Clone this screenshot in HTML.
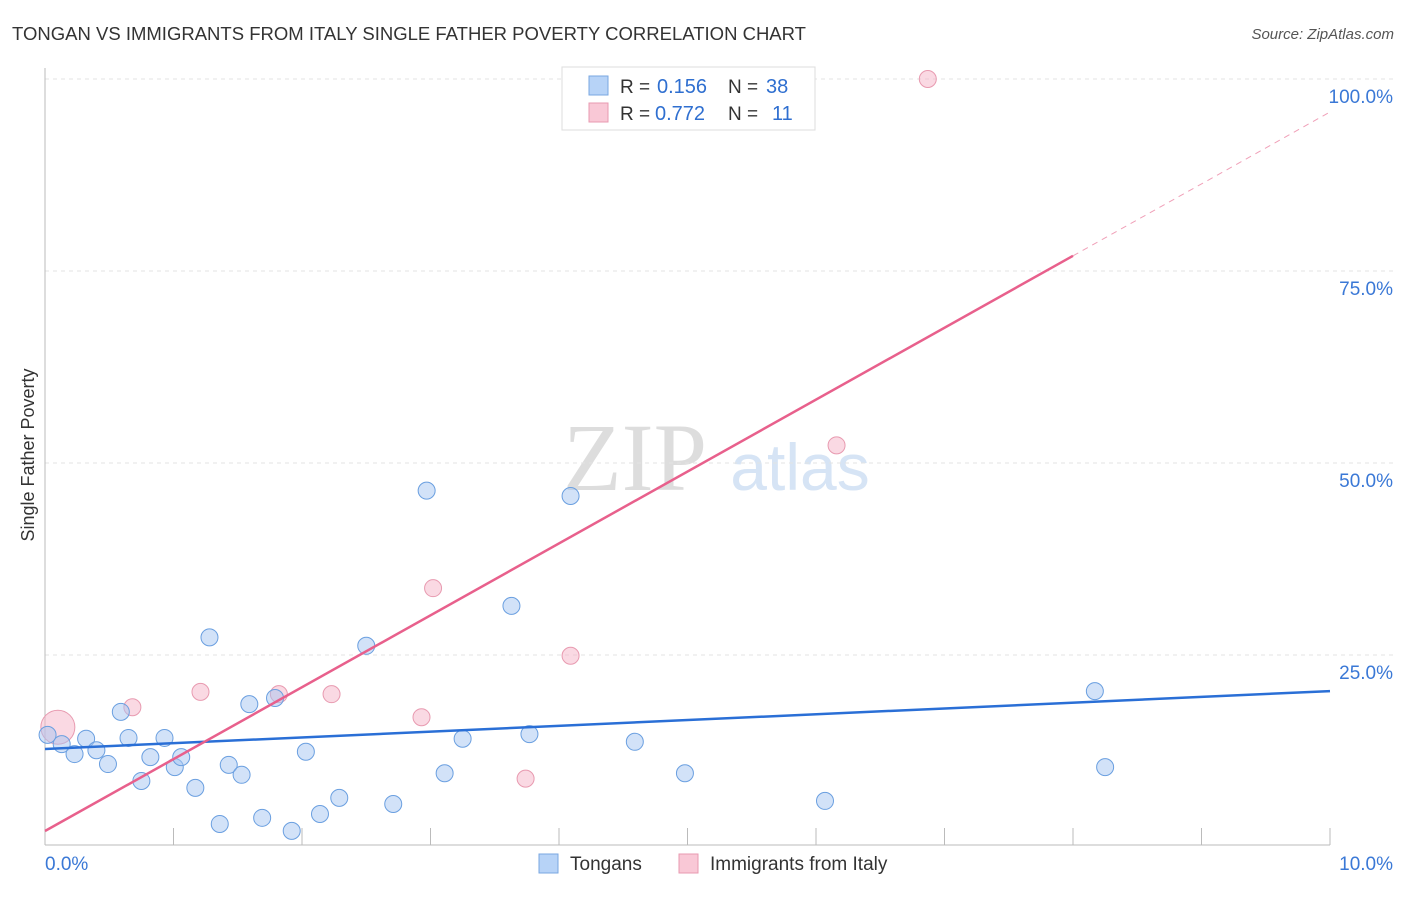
<!DOCTYPE html>
<html><head><meta charset="utf-8"><style>
body{margin:0;background:#fff;font-family:"Liberation Sans",sans-serif}
</style></head><body>
<svg width="1406" height="892" xmlns="http://www.w3.org/2000/svg" id="chart">
<text x="12" y="40" font-size="18" fill="#333" textLength="794" lengthAdjust="spacingAndGlyphs">TONGAN VS IMMIGRANTS FROM ITALY SINGLE FATHER POVERTY CORRELATION CHART</text>
<text x="1394" y="39" font-size="15" fill="#555" font-style="italic" text-anchor="end">Source: ZipAtlas.com</text>
<text x="635" y="490" font-size="96" fill="#ddd" font-family="Liberation Serif,serif" text-anchor="middle">ZIP</text>
<text x="800" y="490" font-size="66" fill="#d6e4f5" text-anchor="middle">atlas</text>
<text transform="translate(34,455) rotate(-90)" font-size="18" fill="#333" text-anchor="middle">Single Father Poverty</text>
<g id="grid"></g><g id="marks"></g>
<g>
<rect x="562" y="67" width="253" height="63" fill="#fff" stroke="#ddd"/>
<rect x="589" y="76" width="19" height="19" fill="#b7d3f7" stroke="#7aa7e0"/>
<rect x="589" y="103" width="19" height="19" fill="#f9c8d6" stroke="#e89ab0"/>
<text x="620" y="93" font-size="19" fill="#333">R =</text>
<text x="657" y="93" font-size="20" fill="#2f6fd0">0.156</text>
<text x="728" y="93" font-size="19" fill="#333">N =</text>
<text x="766" y="93" font-size="20" fill="#2f6fd0">38</text>
<text x="620" y="120" font-size="19" fill="#333">R =</text>
<text x="655" y="120" font-size="20" fill="#2f6fd0">0.772</text>
<text x="728" y="120" font-size="19" fill="#333">N =</text>
<text x="772" y="120" font-size="20" fill="#2f6fd0">11</text>
</g>
<g>
<rect x="539" y="854" width="19" height="19" fill="#b7d3f7" stroke="#7aa7e0"/>
<text x="570" y="870" font-size="19" fill="#333">Tongans</text>
<rect x="679" y="854" width="19" height="19" fill="#f9c8d6" stroke="#e89ab0"/>
<text x="710" y="870" font-size="19" fill="#333">Immigrants from Italy</text>
</g>
</svg>
<script>
const yTicks=[25,50,75,100];
const yTickLabels=["25.0%","50.0%","75.0%","100.0%"];
const xTickVals=[1,2,3,4,5,6,7,8,9,10];
const tonganX=[0.02,0.13,0.23,0.32,0.40,0.49,0.59,0.65,0.75,0.82,0.93,1.01,1.06,1.17,1.28,1.36,1.43,1.53,1.59,1.69,1.79,1.92,2.03,2.14,2.29,2.50,2.71,2.97,3.11,3.25,3.63,3.77,4.09,4.59,4.98,6.07,8.17,8.25];
const tonganY=[14.6,13.4,12.1,14.1,12.6,10.8,17.6,14.2,8.6,11.7,14.2,10.4,11.7,7.7,27.3,3.0,10.7,9.4,18.6,3.8,19.4,2.1,12.4,4.3,6.4,26.2,5.6,46.4,9.6,14.1,31.4,14.7,45.7,13.7,9.6,6.0,20.3,10.4];
const italyX=[0.10,0.68,1.21,1.82,2.23,2.93,3.02,3.74,4.09,6.16,6.87];
const italyY=[15.6,18.2,20.2,19.9,19.9,16.9,33.7,8.9,24.9,52.3,100];
const tonganTrend=[12.76,20.3];
const italyTrend=[2.08,95.7];
const italySolidEnd=8.0;
const X=v=>45+v*128.5, Y=v=>847-v*7.68;
const NS="http://www.w3.org/2000/svg";
function mk(p,t,a){const e=document.createElementNS(NS,t);for(const k in a)e.setAttribute(k,a[k]);p.appendChild(e);return e;}
const g=document.getElementById('grid'), m=document.getElementById('marks');
yTicks.forEach((v,i)=>{
 const l=mk(g,'line',{x1:45,x2:1395,y1:Y(v),y2:Y(v),stroke:'#e3e3e3','stroke-dasharray':'4,4'});
 
 
 const t=mk(g,'text',{x:1393,y:Y(v)+24,'font-size':19,fill:'#3a78d6','text-anchor':'end'});t.textContent=yTickLabels[i];
 
 
});
const ax=mk(g,'line',{x1:45,x2:1330,y1:845,y2:845,stroke:'#bbb'});


const ay=mk(g,'line',{x1:45,x2:45,y1:68,y2:845,stroke:'#bbb'});


xTickVals.forEach(v=>{const t=mk(g,'line',{x1:X(v),x2:X(v),y1:828,y2:845,stroke:'#bbb'});
 
 });
const x0=mk(g,'text',{x:45,y:870,'font-size':19,fill:'#3a78d6'});x0.textContent='0.0%';


const x1=mk(g,'text',{x:1393,y:870,'font-size':19,fill:'#3a78d6','text-anchor':'end'});x1.textContent='10.0%';


italyX.forEach((v,i)=>{const c=mk(m,'circle',{cx:X(v),cy:Y(italyY[i]),r:i===0?17:8.5,fill:'rgba(246,180,200,0.5)',stroke:'#e89ab0','stroke-width':1});
 
 });
tonganX.forEach((v,i)=>{const c=mk(m,'circle',{cx:X(v),cy:Y(tonganY[i]),r:8.5,fill:'rgba(165,198,242,0.5)',stroke:'#6a9fe0','stroke-width':1});
 
 });
const tl=mk(m,'line',{x1:X(0),y1:Y(tonganTrend[0]),x2:X(10),y2:Y(tonganTrend[1]),stroke:'#2a6fd6','stroke-width':2.5});


const yS=italyTrend[0]+(italyTrend[1]-italyTrend[0])*italySolidEnd/10;
const il=mk(m,'line',{x1:X(0),y1:Y(italyTrend[0]),x2:X(italySolidEnd),y2:Y(yS),stroke:'#e8608c','stroke-width':2.5});


const id=mk(m,'line',{x1:X(italySolidEnd),y1:Y(yS),x2:X(10),y2:Y(italyTrend[1]),stroke:'#f0a0b8','stroke-width':1,'stroke-dasharray':'6,5'});


</script>
</body></html>
